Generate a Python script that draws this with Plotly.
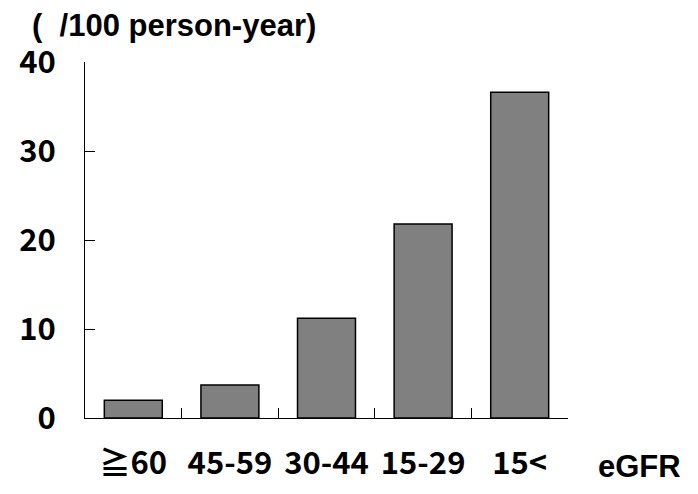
import plotly.graph_objects as go

categories = ["≧60", "45-59", "30-44", "15-29", "15<"]
values = [2.0, 3.7, 11.2, 21.8, 36.6]
y_ticks = [0, 10, 20, 30, 40]
y_title = "(\u00a0 /100 person-year)"
x_title = "eGFR"

CJK = "Noto Sans CJK JP"
SANS = "Liberation Sans, Arial"

fig = go.Figure(go.Bar(
    x=categories, y=values, width=0.6,
    marker=dict(color="#808080", line=dict(color="black", width=1.5)),
))

fig.update_layout(
    width=690, height=486,
    margin=dict(l=77, r=130, t=54, b=76, autoexpand=False),
    plot_bgcolor="white", paper_bgcolor="white",
    showlegend=False,
    font=dict(family=CJK, color="black"),
)
fig.update_xaxes(
    type="category", showline=True, linecolor="black", linewidth=1,
    ticks="inside", tickson="boundaries", ticklen=10, tickcolor="black",
    tickfont=dict(family=CJK, size=31, weight="bold"),
    ticklabelstandoff=18, showgrid=False, zeroline=False, automargin=False,
)
fig.update_yaxes(
    range=[0, 40], tickvals=y_ticks, showline=True, linecolor="black", linewidth=1,
    ticks="inside", ticklen=10, tickcolor="black",
    tickfont=dict(family=CJK, size=31, weight="bold"),
    ticklabelstandoff=22, showgrid=False, zeroline=False, automargin=False,
)
fig.add_annotation(text=y_title, xref="paper", yref="paper", x=0, y=1,
                   xanchor="left", yanchor="middle", showarrow=False,
                   xshift=-55, yshift=37,
                   font=dict(family=SANS, size=31, weight="bold"))
fig.add_annotation(text=x_title, xref="paper", yref="paper", x=1, y=0,
                   xanchor="left", yanchor="middle", showarrow=False,
                   xshift=28, yshift=-48,
                   font=dict(family=SANS, size=31, weight="bold"))

fig.write_html("out.html")
